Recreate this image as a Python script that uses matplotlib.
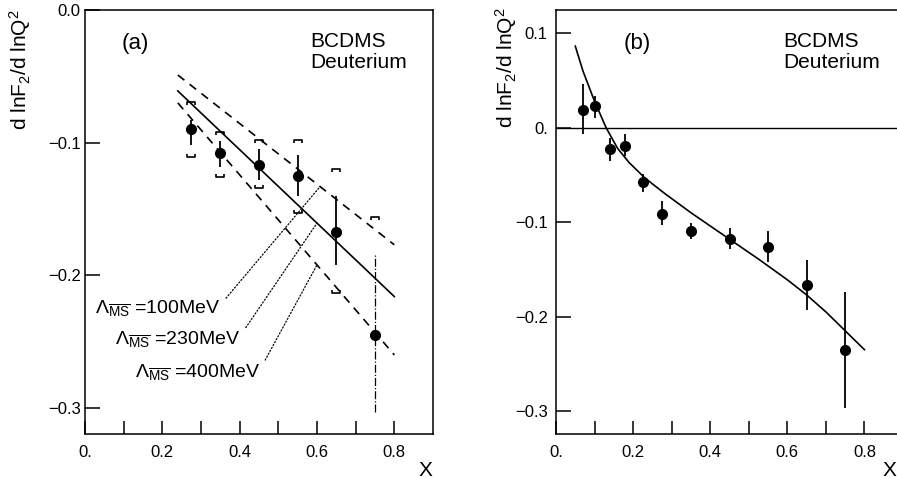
import numpy as np
import matplotlib.pyplot as plt
from matplotlib.path import Path

plt.rcParams['font.family'] = ['Liberation Sans', 'DejaVu Sans']
plt.rcParams['mathtext.fontset'] = 'custom'
plt.rcParams['mathtext.rm'] = 'Liberation Sans'
plt.rcParams['mathtext.it'] = 'Liberation Sans'
plt.rcParams['mathtext.bf'] = 'Liberation Sans:bold'

# panel (a): slopes at high x with statistical and systematic errors
xa = [0.275, 0.35, 0.45, 0.55, 0.65, 0.75]
ya = [-0.090, -0.108, -0.117, -0.125, -0.167, -0.245]
ya_top = [-0.0826, -0.099, -0.105, -0.109, -0.1405, -0.183]
ya_bot = [-0.1015, -0.118, -0.128, -0.1405, -0.192, -0.303]
sys_top = [-0.069, -0.0917, -0.0977, -0.0977, -0.120, -0.156]
sys_bot = [-0.111, -0.126, -0.134, -0.153, -0.213, np.nan]

# QCD predictions for three values of Lambda
fit_x = [0.24, 0.80]
fit_100 = [-0.049, -0.177]
fit_230 = [-0.061, -0.216]
fit_400 = [-0.070, -0.260]
lam_labels = ['100MeV', '230MeV', '400MeV']

# panel (b): all x bins
xb = [0.07, 0.10, 0.14, 0.18, 0.225, 0.275, 0.35, 0.45, 0.55, 0.65, 0.75]
yb = [0.019, 0.023, -0.023, -0.019, -0.057, -0.091, -0.109, -0.1175, -0.126, -0.167, -0.235]
yb_top = [0.046, 0.0335, -0.0106, -0.0063, -0.0487, -0.0776, -0.1005, -0.1058, -0.1093, -0.1403, -0.1735]
yb_bot = [-0.0063, 0.0106, -0.0353, -0.030, -0.0677, -0.103, -0.118, -0.1287, -0.1418, -0.1932, -0.2963]

curve_x = [0.05, 0.07, 0.10, 0.13, 0.16, 0.19, 0.23, 0.28, 0.35, 0.45, 0.525, 0.60, 0.65, 0.70, 0.75, 0.80]
curve_y = [0.0865, 0.060, 0.028, 0.0, -0.022, -0.037, -0.053, -0.069, -0.090, -0.118, -0.139, -0.161, -0.177,
           -0.195, -0.215, -0.235]

x_ticks = [0.0, 0.1, 0.2, 0.3, 0.4, 0.5, 0.6, 0.7, 0.8]
x_ticklabels = ['0.', '', '0.2', '', '0.4', '', '0.6', '', '0.8']

bracket_up = Path([(-1, -0.7), (-1, 0), (1, 0), (1, -0.7)],
                  [Path.MOVETO, Path.LINETO, Path.LINETO, Path.LINETO])
bracket_dn = Path([(-1, 0.7), (-1, 0), (1, 0), (1, 0.7)],
                  [Path.MOVETO, Path.LINETO, Path.LINETO, Path.LINETO])

fig = plt.figure(figsize=(8.97, 4.79), dpi=100)
ax1 = fig.add_axes([85 / 897, 45 / 479, 348 / 897, 424 / 479])
ax2 = fig.add_axes([556 / 897, 45 / 479, 347 / 897, 424 / 479])


def style_axes(ax, xlab_pos):
    for s in ax.spines.values():
        s.set_linewidth(1.1)
    ax.set_xlim(0, 0.9)
    ax.set_xticks(x_ticks)
    ax.set_xticklabels(x_ticklabels)
    ax.tick_params(axis='x', direction='in', length=9.5, width=1.1, pad=8, labelsize=12)
    ax.tick_params(axis='y', direction='in', length=11, width=1.1, pad=3, labelsize=12)
    ax.tick_params(top=False, right=False)
    ax.text(xlab_pos, -0.085, 'X', transform=ax.transAxes, ha='center', va='center', fontsize=15)


# ---- panel (a)
ya_arr = np.array(ya)
err_a = [ya_arr - np.array(ya_bot), np.array(ya_top) - ya_arr]
ax1.errorbar(xa[:-1], ya[:-1], yerr=[err_a[0][:-1], err_a[1][:-1]], fmt='o', color='k', ms=7, elinewidth=1.3,
             capsize=0)
ax1.plot(xa[-1], ya[-1], 'o', color='k', ms=7)
ax1.plot([xa[-1], xa[-1]], [ya_bot[-1], ya_top[-1]], color='k', lw=0.9, linestyle='-.')
ax1.plot(xa, sys_top, linestyle='none', marker=bracket_up, ms=6, mfc='none', mec='k', mew=1.2)
ax1.plot(xa, sys_bot, linestyle='none', marker=bracket_dn, ms=6, mfc='none', mec='k', mew=1.2)

ax1.plot(fit_x, fit_230, color='k', lw=1.2)
ax1.plot(fit_x, fit_100, color='k', lw=1.2, linestyle=(0, (5, 4)))
ax1.plot(fit_x, fit_400, color='k', lw=1.2, linestyle=(0, (5, 4)))

lam_text_pos = [(0.026, -0.229), (0.078, -0.252), (0.129, -0.2774)]
lam_target_x = [0.608, 0.60, 0.60]
for lab, (tx, ty), fx, fy in zip(lam_labels, lam_text_pos, lam_target_x, [fit_100, fit_230, fit_400]):
    ax1.annotate(r'$\Lambda_{\overline{MS}}$' + ' =' + lab, xy=(fx, np.interp(fx, fit_x, fy)), xytext=(tx, ty),
                 textcoords='data', ha='left', va='baseline', fontsize=14,
                 arrowprops=dict(arrowstyle='-', linestyle=':', lw=0.9, color='k', relpos=(1.0, 0.7),
                                 shrinkA=3, shrinkB=0))

style_axes(ax1, 0.977)
ax1.set_ylim(-0.3196, 0.0)
ax1.set_yticks([0.0, -0.1, -0.2, -0.3])
ax1.set_yticklabels(['0.0', '\u22120.1', '\u22120.2', '\u22120.3'])
ax1.text(0.144, 0.922, '(a)', transform=ax1.transAxes, ha='center', va='center', fontsize=16)
ax1.text(0.647, 0.925, 'BCDMS', transform=ax1.transAxes, ha='left', va='center', fontsize=15)
ax1.text(0.647, 0.876, 'Deuterium', transform=ax1.transAxes, ha='left', va='center', fontsize=15)

# ---- panel (b)
ax2.axhline(0.0, color='k', lw=1.0)
yb_arr = np.array(yb)
ax2.errorbar(xb, yb, yerr=[yb_arr - np.array(yb_bot), np.array(yb_top) - yb_arr], fmt='o', color='k', ms=7,
             elinewidth=1.3, capsize=0)
ax2.plot(curve_x, curve_y, color='k', lw=1.2)

style_axes(ax2, 0.96)
ax2.set_ylim(-0.3243, 0.1247)
ax2.set_yticks([0.1, 0.0, -0.1, -0.2, -0.3])
ax2.set_yticklabels(['0.1', '0.', '\u22120.1', '\u22120.2', '\u22120.3'])
ax2.tick_params(axis='y', pad=6)
ax2.text(0.233, 0.922, '(b)', transform=ax2.transAxes, ha='center', va='center', fontsize=16)
ax2.text(0.654, 0.925, 'BCDMS', transform=ax2.transAxes, ha='left', va='center', fontsize=15)
ax2.text(0.654, 0.876, 'Deuterium', transform=ax2.transAxes, ha='left', va='center', fontsize=15)

ylab = r'd lnF$_2$/d lnQ$^2$'
fig.text(20 / 897, 1 - 9 / 479, ylab, rotation=90, ha='center', va='top', fontsize=15)
fig.text(506 / 897, 1 - 7 / 479, ylab, rotation=90, ha='center', va='top', fontsize=15)

fig.savefig('out.png', dpi=100)
